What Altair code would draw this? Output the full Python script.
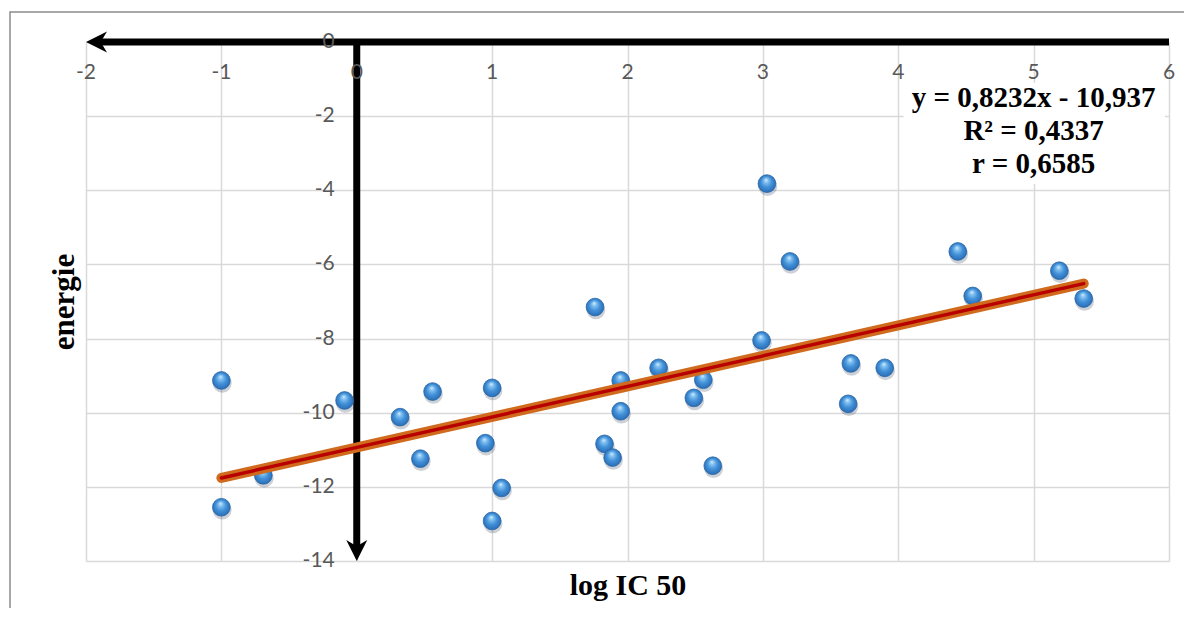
import altair as alt
import pandas as pd

# ---- data ----
log_ic50 = [-1.00, -1.00, -0.69, -0.09, 0.32, 0.47, 0.56, 0.95, 1.00, 1.00, 1.07,
            1.76, 1.83, 1.89, 1.95, 1.95, 2.23, 2.49, 2.56, 2.63, 2.99, 3.03,
            3.20, 3.63, 3.65, 3.90, 4.44, 4.55, 5.19, 5.37]
energie = [-9.13, -12.55, -11.69, -9.67, -10.12, -11.24, -9.43, -10.82, -9.33, -12.92, -12.03,
           -7.15, -10.84, -11.21, -9.13, -9.96, -8.79, -9.60, -9.11, -11.43, -8.05, -3.82,
           -5.92, -9.76, -8.67, -8.79, -5.65, -6.85, -6.17, -6.92]
x_ticks = [-2, -1, 0, 1, 2, 3, 4, 5, 6]
y_ticks = [0, -2, -4, -6, -8, -10, -12, -14]
slope = 0.8232
intercept = -10.937
eq_lines = ["y = 0,8232x - 10,937", "R\u00b2 = 0,4337", "r = 0,6585"]
x_title = "log IC 50"
y_title = "energie"

W, H = 1083, 519
SERIF = "Liberation Serif"
SANS = "Lato"

xs = alt.Scale(domain=[-2, 6], nice=False, zero=False)
ys = alt.Scale(domain=[-14, 0], nice=False, zero=False)
xax = alt.Axis(values=x_ticks, grid=True, labels=False, ticks=False, domain=False,
               gridColor="#d9d9d9", gridWidth=1.5, title=x_title, titleFont=SERIF,
               titleFontSize=30, titleFontWeight="bold", titleColor="black", titlePadding=9)
yax = alt.Axis(values=y_ticks, grid=True, labels=False, ticks=False, domain=False,
               gridColor="#d9d9d9", gridWidth=1.5, title=y_title, titleFont=SERIF,
               titleFontSize=31, titleFontWeight="bold", titleColor="black", titlePadding=6,
               minExtent=0)

def X(f="x"):
    return alt.X(f + ":Q", scale=xs, axis=xax)

def Y(f="y"):
    return alt.Y(f + ":Q", scale=ys, axis=yax)

pts = pd.DataFrame({"x": log_ic50, "y": energie})
xmin, xmax = min(log_ic50), max(log_ic50)
trend = pd.DataFrame({"x": [xmin, xmax], "y": [slope * xmin + intercept, slope * xmax + intercept]})
one = pd.DataFrame({"a": [0]})

frame = alt.Chart(one).mark_rect(fillOpacity=0, stroke="#8c8c8c", strokeWidth=1.5).encode(
    x=alt.value(-76), y=alt.value(-30), x2=alt.value(1300), y2=alt.value(800))

grid = alt.Chart(pts).mark_point(opacity=0).encode(x=X(), y=Y())

hline = alt.Chart(pd.DataFrame({"x": [-1.9], "x2": [6], "y": [0]})).mark_rule(
    color="black", strokeWidth=7, strokeCap="butt").encode(x=X(), x2="x2:Q", y=Y())
vline = alt.Chart(pd.DataFrame({"x": [0], "y": [0], "y2": [-13.75]})).mark_rule(
    color="black", strokeWidth=7, strokeCap="butt").encode(x=X(), y=Y(), y2="y2:Q")
arrow_l = alt.Chart(pd.DataFrame({"x": [-2], "y": [0]})).mark_point(
    shape="M0,0 L2,-1 L1.4,0 L2,1 Z", size=441, filled=True, color="black",
    opacity=1, strokeWidth=0).encode(x=X(), y=Y())
arrow_d = alt.Chart(pd.DataFrame({"x": [0], "y": [-14]})).mark_point(
    shape="M0,0 L-1,-2 L0,-1.4 L1,-2 Z", size=441, filled=True, color="black",
    opacity=1, strokeWidth=0).encode(x=X(), y=Y())

shadow = alt.Chart(pts).mark_circle(size=360, color="#1a2e48", opacity=0.22,
                                    xOffset=0.8, yOffset=2.8).encode(x=X(), y=Y())
sphere_fill = alt.RadialGradient(
    gradient="radial", x1=0.45, y1=0.28, r1=0.0, x2=0.5, y2=0.5, r2=0.55,
    stops=[alt.GradientStop(offset=0.0, color="#e2f3ff"),
           alt.GradientStop(offset=0.2, color="#86c4f2"),
           alt.GradientStop(offset=0.55, color="#4290d8"),
           alt.GradientStop(offset=0.85, color="#2f76bf"),
           alt.GradientStop(offset=1.0, color="#24609e")])
spheres = alt.Chart(pts).mark_circle(size=314, opacity=1, fill=sphere_fill,
                                     stroke="#2a66a3", strokeWidth=0.8).encode(x=X(), y=Y())

trend_outer = alt.Chart(trend).mark_line(color="#d06a1c", strokeWidth=10,
                                         strokeCap="round").encode(x=X(), y=Y())
trend_inner = alt.Chart(trend).mark_line(color="#b80000", strokeWidth=3.4,
                                         strokeCap="round").encode(x=X(), y=Y())

box = alt.Chart(pd.DataFrame({"x": [4.04], "x2": [5.97], "y": [-1.1], "y2": [-3.83]})).mark_rect(
    fill="white").encode(x=X(), x2="x2:Q", y=Y(), y2="y2:Q")
eq = alt.Chart(pd.DataFrame({"x": [5.0], "y": [-1.76]})).mark_text(
    text=eq_lines, font=SERIF, fontSize=29, fontWeight="bold", color="black",
    align="center", baseline="alphabetic", lineHeight=32.7).encode(x=X(), y=Y())

xlab = alt.Chart(pd.DataFrame({"x": x_ticks, "y": [0] * len(x_ticks),
                               "t": [str(v) for v in x_ticks]})).mark_text(
    font=SANS, fontSize=21, color="#595959", align="center", baseline="middle", dy=30.5
).encode(x=X(), y=Y(), text="t:N")
ylab = alt.Chart(pd.DataFrame({"x": [0] * len(y_ticks), "y": y_ticks,
                               "t": [str(v) for v in y_ticks]})).mark_text(
    font=SANS, fontSize=21, color="#595959", align="right", baseline="middle", dx=-22
).encode(x=X(), y=Y(), text="t:N")

chart = alt.layer(
    frame, grid, hline, vline, arrow_l, arrow_d, shadow, spheres,
    trend_outer, trend_inner, box, eq, xlab, ylab
).properties(
    width=W, height=H,
    autosize=alt.AutoSizeParams(type="none"),
    padding={"left": 78, "top": 34, "right": 15, "bottom": 47},
    background="white",
).configure_view(strokeWidth=0)

chart.save("out.html", embed_options={"renderer": "svg", "actions": False})
